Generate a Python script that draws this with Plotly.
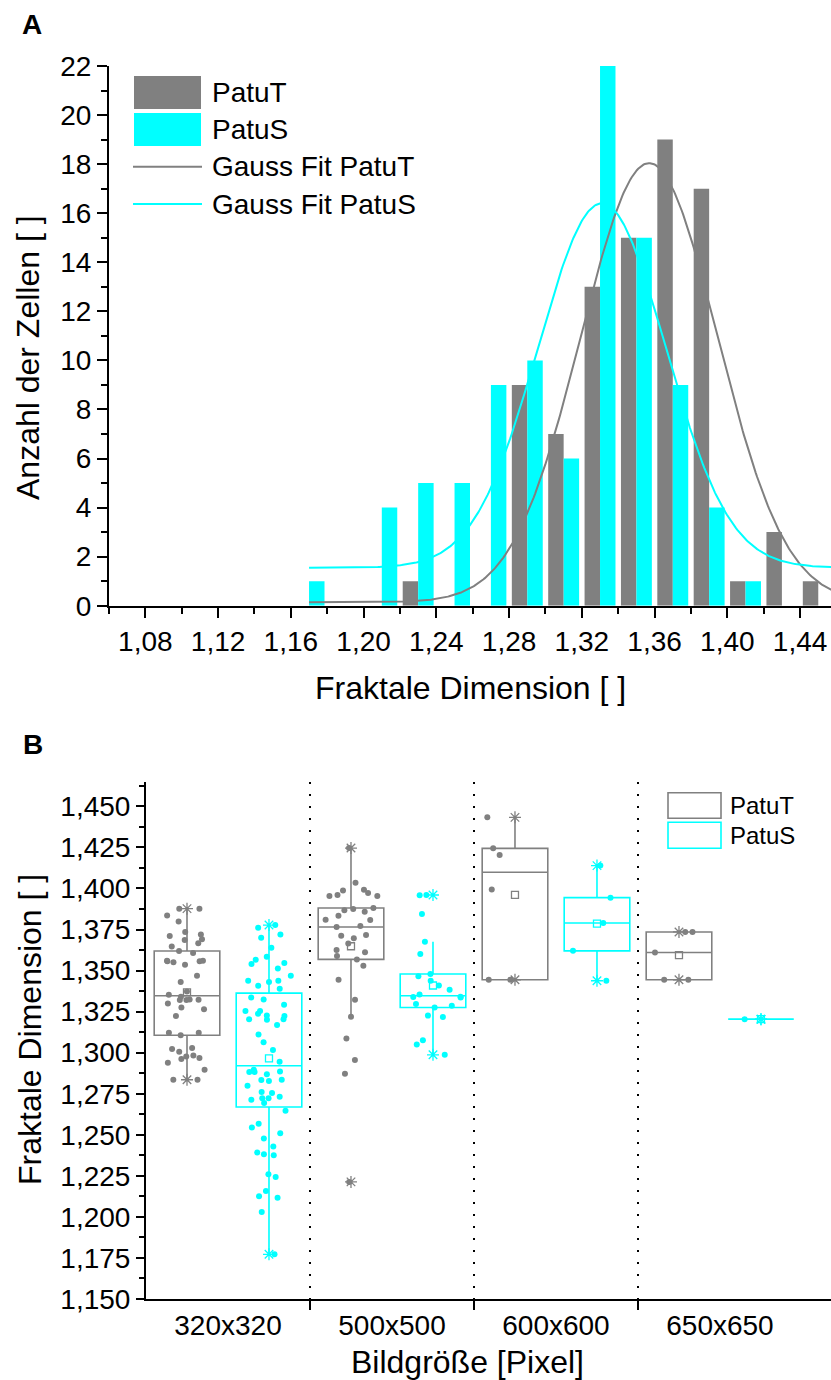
import numpy as np
import plotly.graph_objects as go

# ---------------- Panel A: histogram of fractal dimension ----------------
bin_centers = [1.17, 1.19, 1.21, 1.23, 1.25, 1.27, 1.29, 1.31, 1.33, 1.35,
               1.37, 1.39, 1.41, 1.43, 1.45]
counts_patuT = [0, 0, 0, 1, 0, 0, 9, 7, 13, 15, 19, 17, 1, 3, 1]
counts_patuS = [1, 0, 4, 5, 5, 9, 10, 6, 22, 15, 9, 4, 1, 0, 0]

# Gaussian fit parameters: offset y0, amplitude A, centre xc, sigma
fit_patuT = dict(y0=0.14, A=17.9, xc=1.357, sigma=0.0375)
fit_patuS = dict(y0=1.55, A=14.85, xc=1.331, sigma=0.035)
fit_x_start, fit_x_end = 1.17, 1.46

# ---------------- Panel B: box plots per image size ----------------
image_sizes = ["320x320", "500x500", "600x600", "650x650"]

patuT_320 = [1.3877, 1.3877, 1.3836, 1.3799, 1.3735, 1.3710, 1.3686, 1.3690, 1.3720, 1.3667,
             1.3647, 1.3619, 1.3607, 1.3556, 1.3550, 1.3556, 1.3535, 1.3560, 1.3560, 1.3468,
             1.3430, 1.3373, 1.3353, 1.3324, 1.3320, 1.3320, 1.3340, 1.3322, 1.3300, 1.3275,
             1.3265, 1.3223, 1.3121, 1.3121, 1.3106, 1.3028, 1.3022, 1.3005, 1.2983, 1.2977,
             1.2967, 1.2961, 1.2938, 1.2896, 1.2835, 1.2835]
patuS_320 = [1.3777, 1.3761, 1.3720, 1.3700, 1.3639, 1.3584, 1.3566, 1.3546, 1.3540, 1.3513,
             1.3468, 1.3438, 1.3430, 1.3438, 1.3407, 1.3389, 1.3336, 1.3324, 1.3292, 1.3253,
             1.3253, 1.3237, 1.3226, 1.3223, 1.3204, 1.3200, 1.3204, 1.3168, 1.3111, 1.3064,
             1.3016, 1.2944, 1.2883, 1.2883, 1.2885, 1.2869, 1.2896, 1.2827, 1.2835, 1.2833,
             1.2798, 1.2760, 1.2723, 1.2731, 1.2755, 1.2713, 1.2723, 1.2693, 1.2646, 1.2567,
             1.2544, 1.2510, 1.2477, 1.2428, 1.2376, 1.2392, 1.2382, 1.2260, 1.2243, 1.2158,
             1.2117, 1.2126, 1.2030, 1.1772]
patuT_500 = [1.4246, 1.4035, 1.3972, 1.3988, 1.3954, 1.3954, 1.3960, 1.3992, 1.3881, 1.3875,
             1.3867, 1.3858, 1.3833, 1.3808, 1.3810, 1.3771, 1.3765, 1.3716, 1.3712, 1.3696,
             1.3665, 1.3625, 1.3611, 1.3588, 1.3568, 1.3529, 1.3444, 1.3322, 1.3218, 1.3087,
             1.2955, 1.2871, 1.2213]
patuS_500 = [1.3960, 1.3958, 1.3844, 1.3676, 1.3601, 1.3466, 1.3479, 1.3438, 1.3409, 1.3383,
             1.3354, 1.3340, 1.3339, 1.3336, 1.3296, 1.3286, 1.3275, 1.3226, 1.3217, 1.3076,
             1.3050, 1.2987]
patuT_600 = [1.3444, 1.3444, 1.3993, 1.4204, 1.4244, 1.4433]
patuS_600 = [1.3438, 1.3620, 1.3790, 1.3944, 1.4139]
patuT_650 = [1.3444, 1.3444, 1.3610, 1.3735, 1.3735]
patuS_650 = [1.3204]

patuT_groups = [patuT_320, patuT_500, patuT_600, patuT_650]
patuS_groups = [patuS_320, patuS_500, patuS_600, patuS_650]

GREY = "#808080"
CYAN = "#00FFFF"
FONT = "Liberation Sans, Arial, sans-serif"
W, H = 831, 1380


def px_x(v):
    return v / W


def px_y(v):
    return 1 - v / H


fig = go.Figure()

# histogram bars
fig.add_trace(go.Bar(x=bin_centers, y=counts_patuT, marker=dict(color=GREY, line=dict(width=0)),
                     name="PatuT", xaxis="x", yaxis="y", showlegend=False))
fig.add_trace(go.Bar(x=bin_centers, y=counts_patuS, marker=dict(color=CYAN, line=dict(width=0)),
                     name="PatuS", xaxis="x", yaxis="y", showlegend=False))

# Gaussian fit curves
xs = np.linspace(fit_x_start, fit_x_end, 400)
for p, col, nm in [(fit_patuT, GREY, "Gauss Fit PatuT"), (fit_patuS, CYAN, "Gauss Fit PatuS")]:
    ys = p["y0"] + p["A"] * np.exp(-((xs - p["xc"]) ** 2) / (2 * p["sigma"] ** 2))
    fig.add_trace(go.Scatter(x=xs, y=ys, mode="lines", line=dict(color=col, width=2),
                             name=nm, xaxis="x", yaxis="y", showlegend=False))

# box plots
BOX_SHIFT = 0.25
for groups, col, nm, sign in [(patuT_groups, GREY, "PatuT", -1), (patuS_groups, CYAN, "PatuS", 1)]:
    xv, yv = [], []
    for i, g in enumerate(groups):
        xv += [i] * len(g)
        yv += g
    fig.add_trace(go.Box(
        x=xv, y=yv, name=nm, offsetgroup=nm, xaxis="x2", yaxis="y2",
        boxpoints="all", jitter=0.85, pointpos=0, quartilemethod="inclusive",
        whiskerwidth=0, fillcolor="rgba(0,0,0,0)",
        line=dict(color=col, width=1.6),
        marker=dict(color=col, size=6, line=dict(width=0)),
        showlegend=False, hoverinfo="y"))
    # mean (open square) and min/max markers
    pos = [i + sign * BOX_SHIFT for i in range(len(groups))]
    means = [float(np.mean(g)) for g in groups]
    fig.add_trace(go.Scatter(x=pos, y=means, mode="markers", xaxis="x2", yaxis="y2",
                             marker=dict(symbol="square-open", size=7, color=col, line=dict(width=1.3)),
                             showlegend=False))
    ext_x = pos + pos
    ext_y = [min(g) for g in groups] + [max(g) for g in groups]
    fig.add_trace(go.Scatter(x=ext_x, y=ext_y, mode="markers", xaxis="x2", yaxis="y2",
                             marker=dict(symbol="asterisk-open", size=10, color=col,
                                         line=dict(width=1.3, color=col)),
                             showlegend=False))

axis_common = dict(showline=True, linewidth=2, linecolor="black", ticks="outside",
                   tickwidth=2, tickcolor="black", showgrid=False, zeroline=False,
                   automargin=False,
                   tickfont=dict(size=28, color="black", family=FONT))

fig.update_layout(
    width=W, height=H, margin=dict(l=0, r=0, t=0, b=0, autoexpand=False),
    paper_bgcolor="white", plot_bgcolor="white",
    font=dict(family=FONT, color="black"),
    separators=",.",
    barmode="group", bargap=0.15, bargroupgap=0,
    boxmode="group", boxgap=0, boxgroupgap=0.2,
    xaxis=dict(axis_common, domain=[px_x(109), 1], range=[1.06, 1.457], anchor="y",
               tick0=1.08, dtick=0.04, tickformat=".2f", ticklen=10,
               minor=dict(ticks="outside", ticklen=6, tickwidth=2, tickcolor="black",
                          tick0=1.06, dtick=0.02)),
    yaxis=dict(axis_common, domain=[px_y(605.7), px_y(66)], range=[0, 22], anchor="x",
               tick0=0, dtick=2, ticklen=10,
               minor=dict(ticks="outside", ticklen=6, tickwidth=2, tickcolor="black",
                          tick0=0, dtick=1)),
    xaxis2=dict(axis_common, domain=[px_x(146), 1], range=[-0.5, 3.677], anchor="y2",
                tickmode="array", tickvals=[0, 1, 2, 3], ticktext=image_sizes, ticks="",
                ticklabelstandoff=0,
                minor=dict(tickmode="array", tickvals=[0.5, 1.5, 2.5], ticks="outside",
                           ticklen=9, tickwidth=2, tickcolor="black", showgrid=True,
                           gridcolor="black", gridwidth=2, griddash="2px,10px")),
    yaxis2=dict(axis_common, domain=[px_y(1299), px_y(781.7)], range=[1.15, 1.465], anchor="x2",
                tick0=1.15, dtick=0.025, tickformat=".3f", ticklen=8,
                minor=dict(ticks="outside", ticklen=5, tickwidth=2, tickcolor="black",
                           tick0=1.15, dtick=0.0125)),
)

# ---------------- legends, titles, panel letters ----------------
shapes = []
ann = []


def text(x, y, s, size, **kw):
    ann.append(dict(x=px_x(x), y=px_y(y), xref="paper", yref="paper", text=s, showarrow=False,
                    font=dict(size=size, family=FONT, color="black"), **kw))


# legend A
shapes.append(dict(type="rect", xref="paper", yref="paper", x0=px_x(134), x1=px_x(201),
                   y0=px_y(109), y1=px_y(76), fillcolor=GREY, line=dict(width=0)))
shapes.append(dict(type="rect", xref="paper", yref="paper", x0=px_x(134), x1=px_x(201),
                   y0=px_y(146), y1=px_y(113), fillcolor=CYAN, line=dict(width=0)))
shapes.append(dict(type="line", xref="paper", yref="paper", x0=px_x(133), x1=px_x(202),
                   y0=px_y(166.7), y1=px_y(166.7), line=dict(color=GREY, width=2)))
shapes.append(dict(type="line", xref="paper", yref="paper", x0=px_x(133), x1=px_x(202),
                   y0=px_y(204), y1=px_y(204), line=dict(color=CYAN, width=2)))
for yy, s in [(92.5, "PatuT"), (129, "PatuS"), (166.7, "Gauss Fit PatuT"), (204, "Gauss Fit PatuS")]:
    text(210, yy, s, 28, xanchor="left", yanchor="middle")

# legend B
shapes.append(dict(type="rect", xref="paper", yref="paper", x0=px_x(668), x1=px_x(721),
                   y0=px_y(818.3), y1=px_y(792.7), line=dict(color=GREY, width=1.6)))
shapes.append(dict(type="rect", xref="paper", yref="paper", x0=px_x(668), x1=px_x(721),
                   y0=px_y(848.3), y1=px_y(822.3), line=dict(color=CYAN, width=1.6)))
text(728, 805.5, "PatuT", 24, xanchor="left", yanchor="middle")
text(728, 835.5, "PatuS", 24, xanchor="left", yanchor="middle")

# panel letters
text(32, 25, "<b>A</b>", 28, xanchor="center", yanchor="middle")
text(33, 745, "<b>B</b>", 28, xanchor="center", yanchor="middle")

# axis titles
text(470, 688, "Fraktale Dimension [ ]", 32, xanchor="center", yanchor="middle")
text(28, 358, "Anzahl der Zellen [ ]", 32, xanchor="center", yanchor="middle", textangle=-90)
text(467, 1362, "Bildgröße [Pixel]", 32, xanchor="center", yanchor="middle")
text(30, 1030, "Fraktale Dimension [ ]", 32, xanchor="center", yanchor="middle", textangle=-90)

fig.update_layout(shapes=shapes, annotations=ann)

fig.write_html("out.html")
